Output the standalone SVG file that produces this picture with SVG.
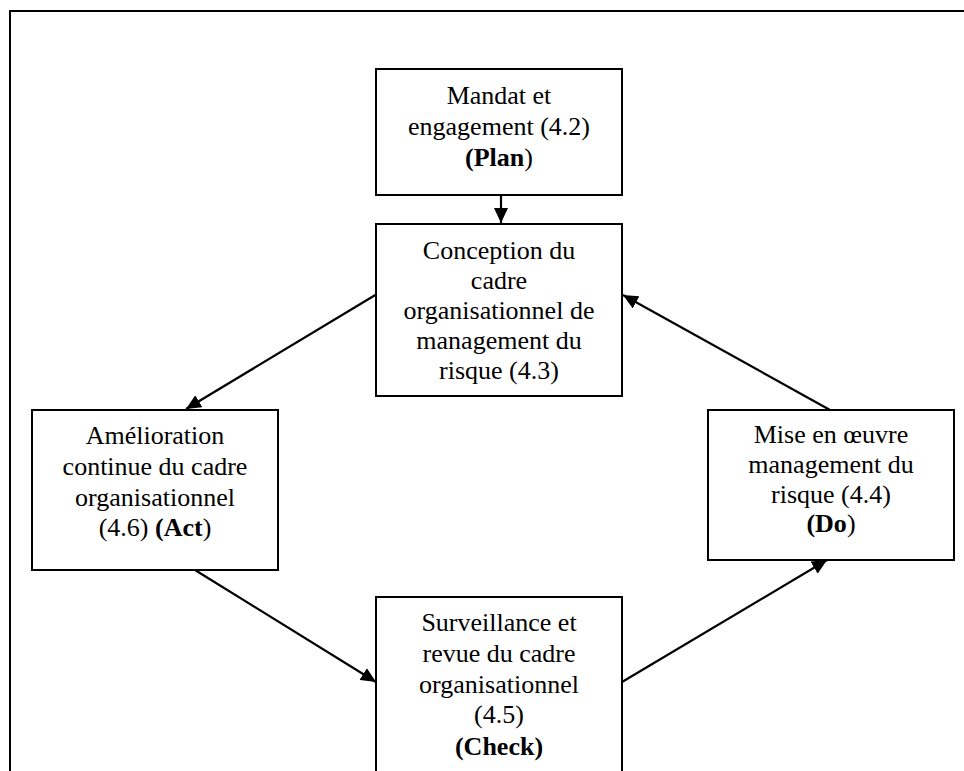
<svg xmlns="http://www.w3.org/2000/svg" width="964" height="771" viewBox="0 0 964 771">
<style>
.box{fill:#fff;stroke:#000;stroke-width:2}
.t{font-family:"Liberation Serif","Times New Roman",serif;font-size:26px;fill:#000;text-anchor:middle}
.b{font-weight:bold}
.c{stroke:#000;stroke-width:2.2;fill:none;marker-end:url(#ah)}
</style>
<defs>
<marker id="ah" markerUnits="userSpaceOnUse" markerWidth="16" markerHeight="14" refX="15" refY="7" orient="auto">
<path d="M0,0 L15,7 L0,14 Z" fill="#000"/>
</marker>
</defs>
<rect width="964" height="771" fill="#fff"/>
<path d="M10,771 L10,11 L964,11" fill="none" stroke="#000" stroke-width="2"/>
<g id="connectors">
<line class="c" x1="501" y1="195" x2="501" y2="223"/>
<line class="c" x1="377" y1="294" x2="186" y2="409"/>
<line class="c" x1="830" y1="410" x2="623" y2="295"/>
<line class="c" x1="195" y1="570" x2="376" y2="682"/>
<line class="c" x1="622" y1="682" x2="827" y2="560"/>
</g>
<g id="n42">
<rect class="box" x="376" y="69" width="246" height="126"/>
<text class="t" x="499" y="104">Mandat et</text>
<text class="t" x="499" y="135">engagement (4.2)</text>
<text class="t" x="499" y="166"><tspan class="b">(Plan</tspan>)</text>
</g>
<g id="n43">
<rect class="box" x="376" y="224" width="246" height="172"/>
<text class="t" x="499" y="259">Conception du</text>
<text class="t" x="499" y="289">cadre</text>
<text class="t" x="499" y="319">organisationnel de</text>
<text class="t" x="499" y="349">management du</text>
<text class="t" x="499" y="379">risque (4.3)</text>
</g>
<g id="n46">
<rect class="box" x="32" y="410" width="246" height="160"/>
<text class="t" x="155" y="444">Amélioration</text>
<text class="t" x="155" y="475">continue du cadre</text>
<text class="t" x="155" y="506">organisationnel</text>
<text class="t" x="155" y="536">(4.6) <tspan class="b">(Act</tspan>)</text>
</g>
<g id="n44">
<rect class="box" x="708" y="410" width="246" height="150"/>
<text class="t" x="831" y="443">Mise en œuvre</text>
<text class="t" x="831" y="473">management du</text>
<text class="t" x="831" y="503">risque (4.4)</text>
<text class="t" x="831" y="532"><tspan class="b">(Do</tspan>)</text>
</g>
<g id="n45">
<rect class="box" x="376" y="597" width="246" height="190"/>
<text class="t" x="499" y="631">Surveillance et</text>
<text class="t" x="499" y="662">revue du cadre</text>
<text class="t" x="499" y="693">organisationnel</text>
<text class="t" x="499" y="723">(4.5)</text>
<text class="t b" x="499" y="755">(Check)</text>
</g>
</svg>
